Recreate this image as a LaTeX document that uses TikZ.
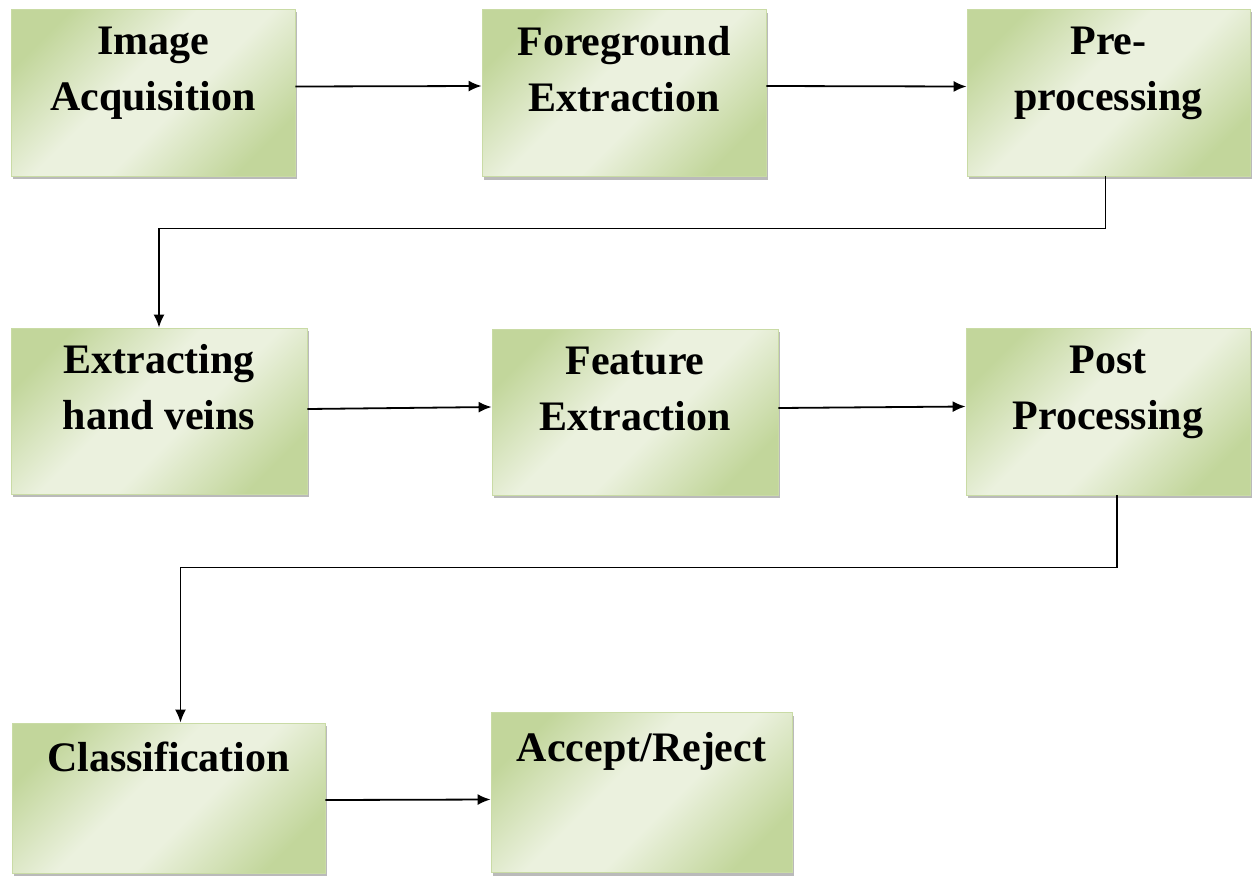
\documentclass[tikz,border=0pt]{standalone}
\usepackage{fontspec}
\setmainfont{Liberation Serif}
\usetikzlibrary{arrows.meta,shadows,calc}
\definecolor{boxgreen}{HTML}{C2D69B}
\definecolor{boxlight}{HTML}{EBF1DE}
\definecolor{boxedge}{HTML}{C9DBA5}
\pgfdeclarehorizontalshading{mirrorgreen}{100bp}{color(0bp)=(boxgreen); color(24bp)=(boxgreen); color(44bp)=(boxlight); color(56bp)=(boxlight); color(76bp)=(boxgreen); color(100bp)=(boxgreen)}
\tikzset{
  box/.style={draw=boxedge, line width=0.8pt, shading=mirrorgreen, shading angle=-45,
    drop shadow={shadow xshift=2pt, shadow yshift=-3pt, opacity=0.45, fill=black!60},
    inner sep=0pt},
  txt/.style={font=\fontsize{42}{56}\selectfont\bfseries, align=center, inner sep=0pt},
  conn/.style={line width=1.8pt, -{Latex[length=13pt,width=11pt]}}
}
\begin{document}
\begin{tikzpicture}[x=1pt,y=-1pt]
\useasboundingbox (0,0) rectangle (1252,876);
% boxes
\node[box, minimum width=284, minimum height=167] (ia) at (153,92.5) {};
\node[box, minimum width=284, minimum height=167] (fe) at (624,93) {};
\node[box, minimum width=283, minimum height=167] (pp) at (1108.5,92.5) {};
\node[box, minimum width=296, minimum height=166] (ehv) at (159,411) {};
\node[box, minimum width=286, minimum height=166] (fx) at (635,412) {};
\node[box, minimum width=284, minimum height=167] (pop) at (1108,411.5) {};
\node[box, minimum width=313, minimum height=150] (cl) at (168.5,798) {};
\node[box, minimum width=301, minimum height=160] (ar) at (641.5,792.5) {};
% texts (base anchor = baseline of last line)
\node[txt, anchor=base] (iat) at ($(ia.north)+(0,102)$) {Image\\Acquisition};
\node[txt, anchor=base] (fet) at ($(fe.north)+(0,102)$) {Foreground\\Extraction};
\node[txt, anchor=base] (ppt) at ($(pp.north)+(0,102)$) {Pre-\\processing};
\node[txt, anchor=base] (ehvt) at ($(ehv.north)+(0,102)$) {Extracting\\hand veins};
\node[txt, anchor=base] (fxt) at ($(fx.north)+(0,102)$) {Feature\\Extraction};
\node[txt, anchor=base] (popt) at ($(pop.north)+(0,102)$) {Post\\Processing};
\node[txt, anchor=base] (clt) at ($(cl.north)+(0,49)$) {Classification};
\node[txt, anchor=base] (art) at ($(ar.north)+(0,49)$) {Accept/Reject};
% connectors
\draw[conn] ($(ia.east)+(0,-6)$) -- ($(fe.west)+(0,-7)$);
\draw[conn] ($(fe.east)+(0,-7)$) -- ($(pp.west)+(0,-6)$);
\draw[conn] ($(pp.south)+(-3,0)$) -- ++(0,52) -| (ehv.north);
\draw[conn] ($(ehv.east)+(0,-2)$) -- ($(fx.west)+(0,-5)$);
\draw[conn] ($(fx.east)+(0,-4)$) -- ($(pop.west)+(0,-5)$);
\draw[conn] ($(pop.south)+(9,0)$) -- ++(0,72) -| ($(cl.north)+(12,0)$);
\draw[conn] ($(cl.east)+(0,2)$) -- ($(ar.west)+(0,7)$);
\end{tikzpicture}
\end{document}
